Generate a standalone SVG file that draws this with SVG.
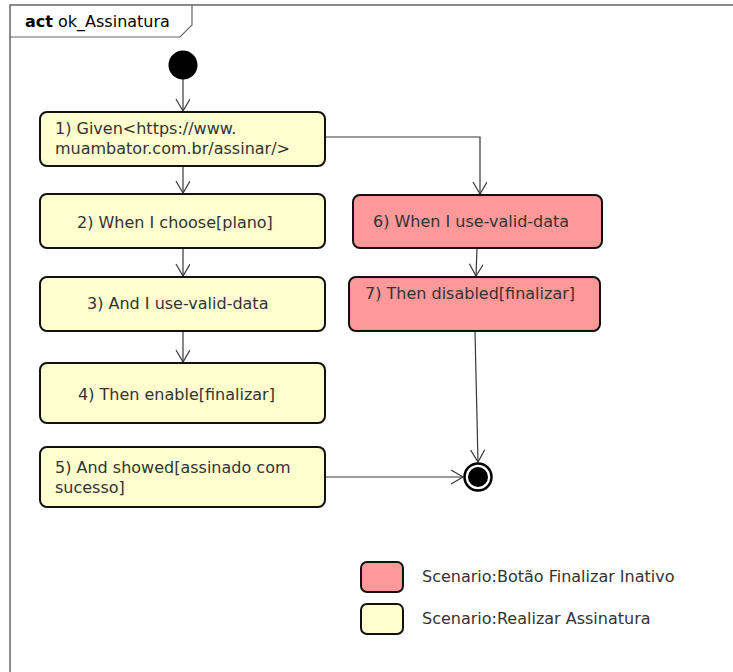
<svg xmlns="http://www.w3.org/2000/svg" width="733" height="672" viewBox="0 0 733 672">
<defs>
<style>
.t{font-family:"DejaVu Sans","Liberation Sans",sans-serif;font-size:16px;fill:#333}
.y{fill:#FEFECE;stroke:#111;stroke-width:2}
.r{fill:#FF9999;stroke:#111;stroke-width:2}
.c{fill:none;stroke:#383838;stroke-width:1.2}
</style>
<marker id="a" markerWidth="16" markerHeight="16" refX="13" refY="7" orient="auto" markerUnits="userSpaceOnUse">
<path d="M1,0 L13,7 L1,14" fill="none" stroke="#383838" stroke-width="1.2"/>
</marker>
</defs>
<rect width="733" height="672" fill="#fff"/>
<g id="frame">
<path d="M10,672 L10,5 L733,5" fill="none" stroke="#666" stroke-width="1.5"/>
<path d="M10,37 L180,37 L192,25 L192,5" fill="none" stroke="#666" stroke-width="1.2"/>
<text class="t" x="25" y="27" style="fill:#000"><tspan font-weight="bold">act</tspan> ok_Assinatura</text>
</g>
<g id="connectors">
<path class="c" d="M183,79 L183,111" marker-end="url(#a)"/>
<path class="c" d="M183,166 L183,193" marker-end="url(#a)"/>
<path class="c" d="M183,248 L183,276" marker-end="url(#a)"/>
<path class="c" d="M183,331 L183,362" marker-end="url(#a)"/>
<path class="c" d="M325,137 L480,137 L480,194" marker-end="url(#a)"/>
<path class="c" d="M477,248 L476,276" marker-end="url(#a)"/>
<path class="c" d="M475,331 L478,462" marker-end="url(#a)"/>
<path class="c" d="M325,477 L463,477" marker-end="url(#a)"/>
</g>
<g id="start"><circle cx="183" cy="65" r="14.5" fill="#000"/></g>
<g id="n1"><rect class="y" x="40" y="112" width="285" height="54" rx="7"/>
<text class="t" x="55" y="134">1) Given&lt;https://www.</text>
<text class="t" x="55" y="154">muambator.com.br/assinar/&gt;</text></g>
<g id="n2"><rect class="y" x="40" y="194" width="285" height="54" rx="7"/>
<text class="t" x="77" y="228">2) When I choose[plano]</text></g>
<g id="n3"><rect class="y" x="40" y="277" width="285" height="54" rx="7"/>
<text class="t" x="87" y="309">3) And I use-valid-data</text></g>
<g id="n4"><rect class="y" x="40" y="363" width="285" height="60" rx="7"/>
<text class="t" x="78" y="400">4) Then enable[finalizar]</text></g>
<g id="n5"><rect class="y" x="40" y="447" width="285" height="60" rx="7"/>
<text class="t" x="55" y="473">5) And showed[assinado com</text>
<text class="t" x="55" y="493">sucesso]</text></g>
<g id="n6"><rect class="r" x="353" y="195" width="249" height="53" rx="7"/>
<text class="t" x="373" y="227">6) When I use-valid-data</text></g>
<g id="n7"><rect class="r" x="349" y="277" width="251" height="54" rx="7"/>
<text class="t" x="365" y="299">7) Then disabled[finalizar]</text></g>
<g id="end"><circle cx="478" cy="477" r="13.5" fill="#fff" stroke="#000" stroke-width="2.5"/>
<circle cx="478" cy="477" r="10" fill="#000"/></g>
<g id="legend">
<rect class="r" x="361" y="562" width="42" height="30" rx="6"/>
<text class="t" x="422" y="582">Scenario:Botão Finalizar Inativo</text>
<rect class="y" x="361" y="604" width="42" height="30" rx="6"/>
<text class="t" x="422" y="624">Scenario:Realizar Assinatura</text>
</g>
</svg>
